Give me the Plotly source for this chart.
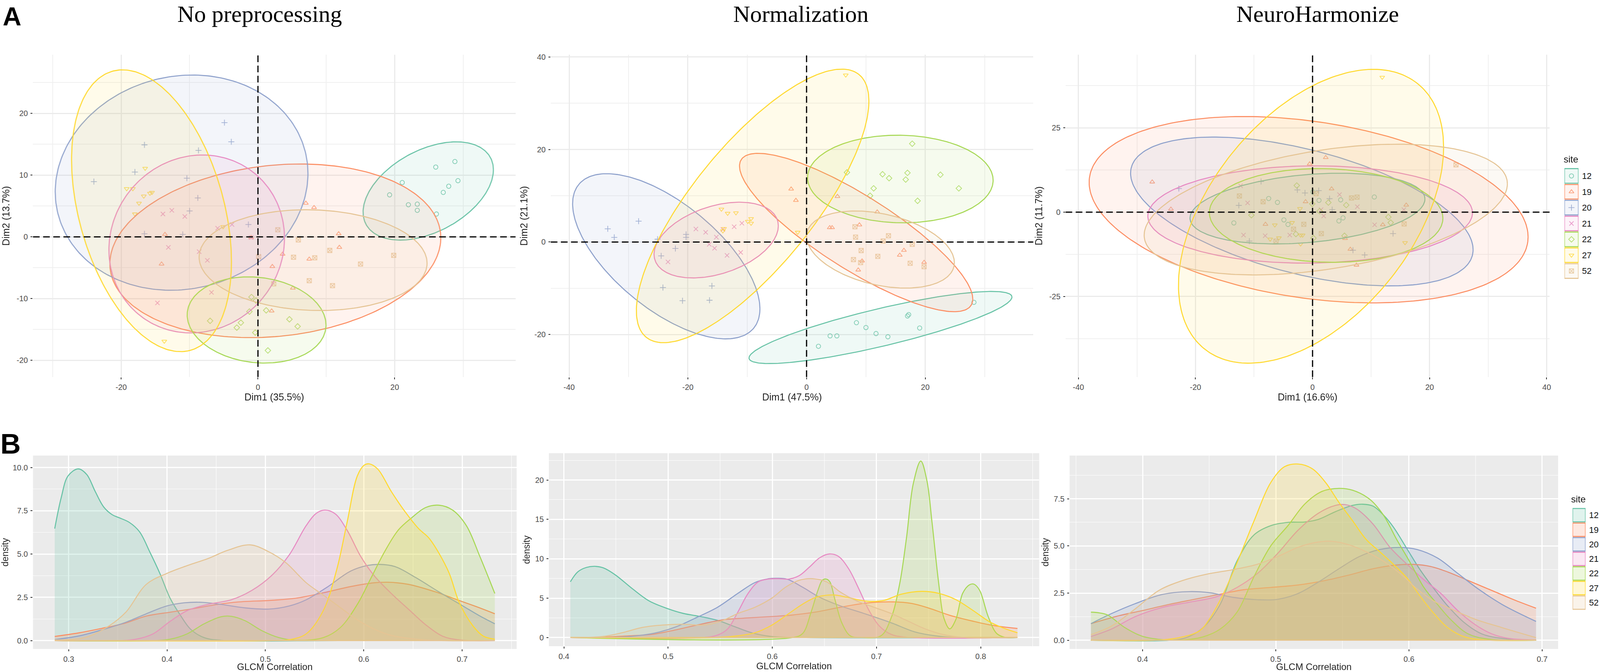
import numpy as np
import plotly.graph_objects as go

W, H = 4317, 1720

sites = ["12", "19", "20", "21", "22", "27", "52"]
colors = ["#66c2a5", "#fc8d62", "#8da0cb", "#e78ac3", "#a6d854", "#ffd92f", "#e5c494"]
symbols = ["circle-open", "triangle-up-open", "cross-thin-open", "x-thin-open",
           "diamond-open", "triangle-down-open", "square-x-open"]

titles = ["No preprocessing", "Normalization", "NeuroHarmonize"]
dim1_labels = ["Dim1 (35.5%)", "Dim1 (47.5%)", "Dim1 (16.6%)"]
dim2_labels = ["Dim2 (13.7%)", "Dim2 (21.1%)", "Dim2 (11.7%)"]

# tick labels, hyphen minus as in the original
pca_xticks = [[-20, 0, 20], [-40, -20, 0, 20], [-40, -20, 0, 20, 40]]
pca_yticks = [[-20, -10, 0, 10, 20], [-20, 0, 20, 40], [-25, 0, 25]]

# PCA scores, one inner list per site
pca1_x = [
    [19.25, 21.1, 22.0, 23.3, 23.3, 26.1, 26.0, 28.8, 29.25, 27.9, 27.1],
    [7.0, 8.2, 11.8, 11.9, 3.6, 7.5, 2.1, 5.1, 2.0, -1.0, -13.6, -14.1],
    [-24.0, -18.0, -16.6, -8.7, -4.9, -3.9, -10.4, -8.8, -10.0, -1.4, -16.6, -11.0],
    [-13.9, -12.6, -10.7, -5.9, -3.8, -1.0, -13.1, -8.6, -7.4, -6.8, -14.7],
    [-0.95, -0.3, -1.25, 1.2, 4.6, 5.8, -2.5, -3.1, -0.4, 1.45, -7.0],
    [-16.5, -19.2, -18.3, -16.7, -15.8, -15.5, -17.4, -18.0, -5.1, -13.7],
    [2.9, 5.9, 0.1, 5.2, 8.3, 10.5, 19.85, 15.0, 7.5, 10.9, 2.3],
]
pca1_y = [
    [6.8, 8.8, 5.2, 5.3, 4.3, 3.7, 11.3, 12.2, 9.1, 8.2, 7.2],
    [5.45, 4.75, 0.5, -1.7, -2.8, -3.6, -4.8, -8.3, -12.0, -0.1, 0.4, -4.4],
    [8.95, 10.5, 14.9, 14.0, 18.5, 15.4, 9.5, 6.3, 4.2, 2.0, 0.5, 0.4],
    [3.7, 4.3, 3.3, 1.4, 2.0, -0.1, -1.7, -2.4, -3.8, -9.0, -10.7],
    [-9.75, -10.3, -12.1, -11.9, -13.35, -14.5, -13.9, -14.7, -15.5, -18.4, -13.6],
    [11.1, 7.8, 7.8, 6.6, 7.05, 7.2, 5.45, 3.7, 1.65, -16.9],
    [1.15, -0.5, -3.2, -3.3, -3.4, -2.2, -3.0, -4.4, -7.1, -7.9, -7.6],
]
pca2_x = [
    [2.0, 3.96, 5.1, 8.4, 10.0, 11.7, 13.7, 17.0, 17.2, 19.05, 28.2],
    [-2.6, -1.8, 5.2, 11.9, 8.9, 3.9, 4.3, 16.4, 15.7, 9.35, 8.7, 19.8],
    [-33.5, -32.4, -28.3, -25.1, -20.3, -20.3, -22.1, -24.5, -24.2, -15.95, -20.9, -16.35],
    [-18.65, -17.0, -15.2, -16.4, -15.5, -13.4, -11.1, -12.2, -10.9, -23.35, -14.1],
    [17.8, 6.8, 12.8, 13.9, 17.0, 16.7, 22.55, 25.65, 18.7, 11.3, 10.7],
    [6.6, -14.35, -13.3, -11.9, -9.9, -9.35, -9.35, -13.9, -14.1, -1.5],
    [8.15, 8.25, 13.8, 12.9, 17.8, 9.2, 12.0, 7.9, 9.1, 17.45, 19.8],
]
pca2_y = [
    [-22.55, -20.3, -20.3, -17.45, -18.5, -19.8, -20.5, -16.0, -15.7, -18.6, -13.05],
    [11.45, 9.0, 9.85, 6.5, 3.7, 3.1, 3.1, -1.8, -2.85, -4.1, -6.05, -4.4],
    [2.85, 1.0, 4.5, 0.6, 1.65, 1.0, -1.4, -3.0, -9.85, -9.5, -12.7, -12.6],
    [2.8, 2.1, 1.05, -0.5, -1.35, -2.9, -2.25, 3.3, 4.05, -4.3, 2.7],
    [21.25, 15.05, 14.65, 13.8, 14.95, 13.5, 14.55, 11.6, 8.9, 11.6, 10.0],
    [36.1, 7.1, 6.2, 6.3, 4.45, 5.05, 4.05, 2.9, 2.4, 2.1],
    [3.3, 1.05, 1.35, 0.2, -0.5, -1.85, -3.1, -3.8, -4.45, -4.6, -5.35],
]
pca3_x = [
    [0.05, 1.1, 4.8, 10.55, -7.5, -6.0, -4.9, -4.2, -13.45, 4.5, 5.2],
    [2.25, -0.5, -27.4, 3.25, -1.2, -24.2, 16.0, -8.05, 12.0, 5.55, 6.45, 7.5],
    [-22.85, -8.8, -12.6, -2.6, -1.3, 1.05, 2.9, 3.35, 13.75, -10.8, 6.9, 8.9],
    [-12.3, -11.1, 4.6, 7.65, 1.45, 1.9, 15.6, 10.6, -11.8, -8.1, -3.9],
    [-2.7, -0.05, 2.7, 5.75, 1.2, -10.45, 12.95, 13.35, -2.85, 0.15, 5.45],
    [11.9, -2.15, -3.5, -6.45, -7.25, -5.75, -2.05, -1.7, -2.05, 15.8],
    [24.5, -12.5, -8.45, 0.6, 6.65, 7.6, -1.5, -3.25, 1.5, -6.25, 15.65],
]
pca3_y = [
    [6.0, 3.5, 3.65, 4.5, 4.05, 2.9, -2.3, -3.65, -3.2, -2.6, -1.7],
    [16.2, 14.3, 8.95, 6.9, 3.1, 0.9, 2.1, -3.6, -3.75, -7.8, -11.0, -15.7],
    [7.0, 9.1, 2.0, 6.6, 5.7, 6.4, 4.0, 0.75, -6.35, -8.6, -11.3, -12.7],
    [7.8, 2.75, 5.2, 1.6, 0.75, -1.15, 0.75, -3.75, -6.8, -7.0, -6.8],
    [7.9, 2.45, 2.85, 2.1, 0.3, -0.9, -1.45, -3.1, -6.5, -7.7, -7.0],
    [40.0, 1.05, -3.1, -3.8, -8.0, -7.65, -6.8, -6.8, -9.45, -9.05],
    [14.05, 4.8, 3.1, 5.5, 4.2, 4.45, -3.6, -5.05, -6.35, -8.6, -3.5],
]

# ellipses: centre, half width, half height, correlation
ell1_cx = [24.9, 2.54, -11.17, -8.96, -0.2, -15.57, 8.06]
ell1_cy = [7.43, -2.26, 8.78, -1.15, -13.46, 4.23, -3.77]
ell1_rx = [9.53, 24.2, 18.48, 12.84, 10.15, 11.69, 16.67]
ell1_ry = [7.96, 14.06, 17.43, 14.41, 6.98, 22.82, 8.16]
ell1_rho = [0.43, 0.15, 0.085, 0.066, -0.118, -0.362, -0.06]

ell2_cx = [12.45, 8.35, -23.64, -15.23, 15.8, -9.09, 12.45]
ell2_cy = [-18.49, 2.05, -3.09, 0.415, 13.62, 7.8, -1.63]
ell2_rx = [22.15, 19.65, 15.78, 10.47, 15.63, 19.59, 12.45]
ell2_ry = [7.8, 17.12, 17.86, 8.19, 9.47, 29.58, 8.34]
ell2_rho = [0.845, -0.84, -0.636, 0.375, -0.03, 0.766, -0.34]

ell3_cx = [-0.87, -0.67, -1.83, -0.41, 2.32, -0.26, 2.26]
ell3_cy = [1.06, 0.73, 0.2, -0.69, -0.98, -1.22, 0.77]
ell3_rx = [20.07, 37.5, 29.26, 27.73, 19.95, 22.65, 31.03]
ell3_ry = [10.49, 27.64, 22.07, 14.43, 13.9, 43.58, 19.39]
ell3_rho = [0.27, -0.293, -0.514, 0.033, -0.06, 0.47, 0.393]

# density curves, knots per site
den1_x = [
    [.2858, .2924, .2993, .3097, .3183, .327, .3356, .3443, .3512, .3616, .372, .3824, .3927, .4031, .4135, .4239, .4377, .455, .576, .7332],
    [.2858, .3097, .3339, .3581, .3789, .4031, .4239, .4516, .4723, .5069, .5311, .5588, .5865, .6107, .6246, .6453, .673, .6972, .7145, .7332],
    [.2858, .3097, .3339, .3581, .3789, .3997, .417, .436, .455, .4792, .5035, .5242, .5415, .5623, .5865, .6038, .6159, .6315, .6522, .6765, .7007, .718, .7332],
    [.2858, .3512, .3685, .3858, .4031, .4204, .4412, .4654, .4862, .5069, .5242, .5415, .5519, .5606, .571, .583, .5969, .6107, .628, .6453, .6626, .6799, .6972, .7332],
    [.2858, .3858, .4031, .4204, .4377, .455, .4654, .4792, .4965, .5138, .5311, .5588, .5761, .5934, .6073, .6211, .635, .6488, .6626, .6765, .6903, .7042, .718, .7332],
    [.2858, .5069, .5242, .5415, .5588, .5727, .583, .5934, .6003, .6055, .6142, .628, .6419, .6557, .6661, .6765, .6869, .6972, .7111, .7215, .7332],
    [.2858, .3166, .3408, .3581, .3789, .3997, .4204, .4412, .4619, .4844, .5035, .5208, .5415, .5588, .5761, .5934, .6107, .628, .6626, .7332],
]
den1_y = [
    [6.47, 8.26, 9.51, 9.92, 9.6, 8.61, 7.72, 7.27, 7.1, 6.83, 6.29, 5.13, 3.88, 2.45, 1.47, 0.66, 0.17, 0.02, 0, 0],
    [0.24, 0.44, 0.71, 1.02, 1.42, 1.64, 1.82, 2.09, 2.23, 2.33, 2.45, 2.76, 3.12, 3.34, 3.37, 3.25, 2.81, 2.31, 1.96, 1.55],
    [0.06, 0.26, 0.62, 1.06, 1.55, 2.0, 2.18, 2.21, 2.09, 1.89, 1.82, 2.0, 2.36, 3.07, 4.01, 4.34, 4.4, 4.28, 3.66, 2.81, 2.0, 1.42, 0.97],
    [0, 0, 0.08, 0.39, 1.11, 1.73, 2.09, 2.36, 2.9, 3.79, 4.95, 6.65, 7.36, 7.54, 7.32, 6.38, 4.86, 3.74, 2.72, 1.82, 0.93, 0.26, 0.04, 0],
    [0, 0, 0.08, 0.39, 0.97, 1.38, 1.4, 1.15, 0.57, 0.17, 0.02, 0.17, 0.75, 2.09, 3.61, 5.13, 6.38, 7.1, 7.68, 7.82, 7.54, 6.65, 4.86, 2.72],
    [0, 0, 0.05, 0.39, 1.73, 4.15, 6.83, 9.51, 10.13, 10.21, 9.91, 8.61, 7.45, 6.47, 5.93, 5.04, 3.88, 2.18, 0.84, 0.26, 0.08],
    [0.04, 0.17, 0.84, 1.64, 3.25, 3.88, 4.33, 4.73, 5.22, 5.53, 5.13, 4.5, 3.34, 2.63, 1.91, 1.2, 0.66, 0.3, 0.04, 0],
]
den2_x = [
    [.4062, .4134, .4216, .4297, .4379, .4493, .4657, .482, .5, .5147, .531, .5474, .5637, .5801, .5997, .6324, .8353],
    [.4062, .4363, .4624, .4853, .5082, .5343, .5539, .5735, .5997, .6193, .6422, .665, .6912, .714, .7337, .75, .7696, .7925, .8121, .8353],
    [.4062, .4526, .4755, .4918, .5082, .5278, .5474, .567, .5833, .5964, .6046, .6144, .6291, .6454, .665, .6879, .714, .7369, .7565, .7794, .8353],
    [.4062, .5343, .5474, .5572, .567, .5768, .5866, .5964, .6062, .616, .6258, .6356, .6454, .6546, .6634, .6732, .683, .6928, .7026, .714, .7271, .8353],
    [.4062, .6193, .6291, .6373, .6438, .648, .6516, .6552, .6601, .6667, .6748, .6846, .7042, .714, .7222, .7288, .7353, .7425, .7484, .7533, .7598, .7647, .7703, .7761, .7827, .7892, .7935, .799, .8072, .8154, .8235, .8353],
    [.4062, .5474, .567, .5833, .5997, .616, .6291, .6422, .6585, .6716, .6846, .6944, .7075, .7239, .7435, .7598, .7761, .7925, .8088, .8219, .8353],
    [.4062, .4363, .4559, .4755, .4951, .5147, .5343, .5507, .567, .5833, .5997, .6127, .6258, .6389, .652, .665, .6814, .6977, .714, .7304, .7467, .7631, .7827, .8353],
]
den2_y = [
    [7.08, 8.35, 8.9, 9.04, 8.84, 7.96, 6.2, 4.63, 3.65, 3.06, 2.67, 2.18, 1.39, 0.61, 0.12, 0, 0],
    [0, 0.06, 0.22, 0.41, 1.0, 1.78, 2.27, 2.47, 2.67, 2.86, 3.25, 3.84, 4.39, 4.53, 4.33, 3.75, 2.86, 2.08, 1.53, 1.16],
    [0, 0.06, 0.31, 0.71, 1.39, 2.57, 3.84, 5.61, 6.98, 7.47, 7.53, 7.41, 6.39, 5.12, 4.04, 3.06, 1.88, 0.71, 0.22, 0, 0],
    [0, 0.02, 0.31, 1.1, 3.25, 5.61, 7.08, 7.43, 7.47, 7.43, 7.86, 8.94, 10.12, 10.61, 10.31, 8.75, 6.2, 3.45, 1.49, 0.41, 0.06, 0],
    [0, 0, 0.51, 3.25, 6.0, 7.27, 7.43, 7.08, 4.82, 1.88, 0.22, 0.02, 0.22, 2.47, 6.78, 12.67, 19.53, 22.41, 19.92, 14.63, 6.78, 2.47, 1.1, 2.27, 5.61, 6.69, 6.78, 6.0, 2.67, 0.51, 0.02, 0],
    [0, 0.02, 0.22, 0.61, 1.59, 3.06, 4.24, 5.12, 5.41, 5.12, 4.73, 4.59, 4.73, 5.51, 5.86, 5.61, 4.82, 3.45, 1.98, 1.2, 0.61],
    [0, 0.12, 0.61, 1.29, 1.59, 1.69, 1.59, 2.08, 3.06, 3.84, 5.02, 6.39, 7.27, 7.47, 7.08, 5.8, 4.63, 3.84, 3.06, 2.08, 1.1, 0.41, 0.02, 0],
]
den3_x = [
    [.3612, .4199, .4327, .4454, .4582, .4709, .4837, .4964, .5092, .5219, .5321, .5449, .5577, .5653, .573, .5806, .5883, .5985, .6087, .6189, .6291, .6418, .6546, .6699, .6954],
    [.3612, .3816, .3995, .4199, .4403, .4607, .476, .4964, .5168, .5372, .5551, .573, .5908, .6036, .6163, .6291, .6444, .6622, .6801, .6954],
    [.3612, .3765, .3944, .4148, .4352, .4505, .4684, .4862, .5015, .5168, .5321, .5474, .5628, .5781, .5934, .6061, .6214, .6367, .652, .6699, .6954],
    [.3612, .3765, .3944, .4148, .4352, .4556, .4709, .4862, .5015, .5168, .5321, .5449, .552, .5602, .573, .5857, .5985, .6112, .624, .6367, .6495, .6622, .675, .6954],
    [.3612, .3676, .374, .3867, .3995, .4173, .4327, .4454, .4582, .4709, .4837, .4964, .5092, .5219, .5347, .5474, .5577, .5704, .5806, .5908, .601, .6112, .6214, .6316, .6444, .6597, .6954],
    [.3612, .4148, .4301, .4429, .4505, .4607, .4709, .4837, .4964, .5066, .5168, .527, .5372, .5474, .5577, .5679, .5781, .5883, .5985, .6087, .6189, .6291, .6418, .6571, .6954],
    [.3612, .3765, .3944, .4122, .4301, .448, .4684, .4862, .5015, .5168, .5296, .5411, .5551, .5679, .5806, .5934, .6061, .6189, .6316, .6495, .6699, .6954],
]
den3_y = [
    [0, 0, 0.14, 0.67, 1.9, 4.2, 5.59, 6.08, 6.25, 6.27, 6.41, 6.82, 7.15, 7.21, 7.11, 6.66, 6.0, 4.85, 3.7, 2.72, 1.82, 0.92, 0.34, 0.1, 0],
    [0.88, 1.29, 1.57, 1.9, 2.19, 2.48, 2.68, 2.8, 2.93, 3.17, 3.46, 3.79, 3.99, 4.02, 3.91, 3.62, 3.17, 2.64, 2.11, 1.7],
    [0.88, 1.41, 1.94, 2.43, 2.58, 2.52, 2.27, 2.15, 2.17, 2.48, 3.09, 3.79, 4.44, 4.81, 4.92, 4.81, 4.36, 3.54, 2.72, 1.9, 1.0],
    [0.2, 0.59, 1.25, 1.74, 2.02, 2.31, 2.8, 3.54, 4.61, 5.84, 6.74, 7.15, 7.19, 6.98, 6.16, 4.93, 4.03, 3.21, 2.48, 1.57, 0.84, 0.34, 0.1, 0.02],
    [1.49, 1.45, 1.33, 0.67, 0.22, 0.02, 0.03, 0.18, 0.59, 1.49, 3.38, 5.02, 6.08, 7.23, 7.89, 8.05, 7.95, 7.48, 6.66, 5.34, 4.11, 2.8, 1.9, 1.08, 0.34, 0.06, 0],
    [0, 0.02, 0.18, 0.51, 1.16, 2.48, 4.11, 6.33, 8.38, 9.2, 9.34, 9.11, 8.38, 7.31, 6.33, 5.34, 4.69, 4.03, 3.3, 2.31, 1.41, 0.67, 0.18, 0.02, 0],
    [0.3, 0.75, 1.66, 2.64, 3.17, 3.5, 3.75, 4.03, 4.44, 4.93, 5.18, 5.25, 5.06, 4.69, 4.2, 3.54, 2.72, 2.07, 1.66, 1.12, 0.67, 0.14],
]

# axis settings
pca_boxes = [(89, 1391, 140, 965), (1486, 2788, 140, 965), (2875, 4181, 140, 965)]
pca_xrange = [(-32.9, 37.67), (-43.1, 38.2), (-42.2, 40.5)]
pca_yrange = [(-22.7, 29.5), (-29.2, 40.5), (-48.9, 46.7)]
pca_xminor = [10, 10, 10]
pca_yminor = [5, 10, 12.5]

den_boxes = [(89, 1394, 1166, 1661), (1481, 2804, 1160, 1654), (2886, 4204, 1166, 1661)]
den_xrange = [(.2637, .7554), (.3856, .8562), (.3452, .712)]
den_yrange = [(-.483, 10.69), (-1.1, 23.4), (-.46, 9.79)]
den_ydtick = [2.5, 5, 2.5]
den_yformat = [".1f", "d", ".1f"]

FONT = "Liberation Sans"


def rgba(hex_color, a):
    r, g, b = int(hex_color[1:3], 16), int(hex_color[3:5], 16), int(hex_color[5:7], 16)
    return f"rgba({r},{g},{b},{a})"


def xdom(a, b):
    return [a / W, b / W]


def ydom(top, bottom):
    return [1 - bottom / H, 1 - top / H]


def axis_ids(k):
    # plotly names the first pair x / y, not x1 / y1
    s = "" if k == 1 else str(k)
    return f"x{s}", f"y{s}", f"xaxis{s}", f"yaxis{s}"


def axis_base():
    return dict(
        ticks="outside", ticklen=5, tickwidth=2, tickcolor="#333333",
        tickfont=dict(family=FONT, size=20, color="#4d4d4d"),
        zeroline=False, showline=False, automargin=False, ticklabelstandoff=3,
    )


fig = go.Figure()
layout = {}
n = 0

pca_x = [pca1_x, pca2_x, pca3_x]
pca_y = [pca1_y, pca2_y, pca3_y]
ell_cx = [ell1_cx, ell2_cx, ell3_cx]
ell_cy = [ell1_cy, ell2_cy, ell3_cy]
ell_rx = [ell1_rx, ell2_rx, ell3_rx]
ell_ry = [ell1_ry, ell2_ry, ell3_ry]
ell_rho = [ell1_rho, ell2_rho, ell3_rho]
t = np.linspace(0, 2 * np.pi, 241)

for p in range(3):
    n += 1
    xa, ya, xname, yname = axis_ids(n)
    left, right, top, bottom = pca_boxes[p]
    layout[xname] = dict(
        axis_base(), domain=xdom(left, right), anchor=ya, range=pca_xrange[p],
        tickmode="array", tickvals=pca_xticks[p], ticktext=[str(v) for v in pca_xticks[p]],
        showgrid=True, gridcolor="#ebebeb", gridwidth=2.5,
        minor=dict(dtick=pca_xminor[p], tick0=0, showgrid=True, gridcolor="#f0f0f0", gridwidth=1.5, ticks=""),
        title=dict(text=dim1_labels[p], font=dict(family=FONT, size=25, color="#222222"), standoff=4),
    )
    layout[yname] = dict(
        axis_base(), domain=ydom(top, bottom), anchor=xa, range=pca_yrange[p],
        tickmode="array", tickvals=pca_yticks[p], ticktext=[str(v) for v in pca_yticks[p]],
        showgrid=True, gridcolor="#ebebeb", gridwidth=2.5,
        minor=dict(dtick=pca_yminor[p], tick0=0, showgrid=True, gridcolor="#f0f0f0", gridwidth=1.5, ticks=""),
        title=dict(text=dim2_labels[p], font=dict(family=FONT, size=25, color="#222222"), standoff=10),
    )
    for i in range(7):
        fig.add_trace(go.Scatter(
            x=pca_x[p][i], y=pca_y[p][i], mode="markers", xaxis=xa, yaxis=ya,
            opacity=0.8, showlegend=False,
            marker=dict(symbol=symbols[i], size=11, color=colors[i], line=dict(width=1.8, color=colors[i])),
        ))
    for i in range(7):
        # ellipse from its centre, extents and correlation
        ex = ell_cx[p][i] + ell_rx[p][i] * np.cos(t)
        ey = ell_cy[p][i] + ell_ry[p][i] * np.cos(t - np.arccos(ell_rho[p][i]))
        fig.add_trace(go.Scatter(
            x=ex, y=ey, mode="lines", xaxis=xa, yaxis=ya, fill="toself",
            fillcolor=rgba(colors[i], 0.1), line=dict(color=colors[i], width=2.6), showlegend=False,
        ))

den_x = [den1_x, den2_x, den3_x]
den_y = [den1_y, den2_y, den3_y]

for p in range(3):
    n += 1
    xa, ya, xname, yname = axis_ids(n)
    left, right, top, bottom = den_boxes[p]
    layout[xname] = dict(
        axis_base(), domain=xdom(left, right), anchor=ya, range=den_xrange[p],
        dtick=0.1, tick0=0, tickformat=".1f", showgrid=True, gridcolor="#ffffff", gridwidth=2.5,
        minor=dict(dtick=0.05, tick0=0, showgrid=True, gridcolor="#ffffff", gridwidth=1.3, ticks=""),
        title=dict(text="GLCM Correlation", font=dict(family=FONT, size=24, color="#222222"), standoff=4),
    )
    layout[yname] = dict(
        axis_base(), domain=ydom(top, bottom), anchor=xa, range=den_yrange[p],
        dtick=den_ydtick[p], tick0=0, tickformat=den_yformat[p], showgrid=True, gridcolor="#ffffff", gridwidth=2.5,
        minor=dict(dtick=den_ydtick[p] / 2, tick0=0, showgrid=True, gridcolor="#ffffff", gridwidth=1.3, ticks=""),
        title=dict(text="density", font=dict(family=FONT, size=23, color="#222222"), standoff=6),
    )
    for i in range(7):
        xs, ys = den_x[p][i], den_y[p][i]
        fig.add_trace(go.Scatter(
            x=xs, y=ys, mode="lines", xaxis=xa, yaxis=ya, fill="tozeroy", showlegend=False,
            fillcolor=rgba(colors[i], 0.2),
            line=dict(color=colors[i], width=2.6, shape="spline", smoothing=1.0),
        ))
        fig.add_trace(go.Scatter(
            x=[xs[0], xs[-1]], y=[0, 0], mode="lines", xaxis=xa, yaxis=ya,
            line=dict(color=colors[i], width=2.6), showlegend=False,
        ))

# dashed zero lines on the PCA panels
shapes = []
for k in range(1, 4):
    xa, ya, _, _ = axis_ids(k)
    dash_line = dict(color="#000000", width=3, dash="17px,9px")
    shapes.append(dict(type="line", xref=f"{xa} domain", yref=ya, x0=0, x1=1, y0=0, y1=0, line=dash_line, layer="above"))
    shapes.append(dict(type="line", xref=xa, yref=f"{ya} domain", x0=0, x1=0, y0=0, y1=1, line=dash_line, layer="above"))

# grey panels for the density row
for k in range(4, 7):
    xa, ya, _, _ = axis_ids(k)
    shapes.append(dict(type="rect", xref=f"{xa} domain", yref=f"{ya} domain", x0=0, x1=1, y0=0, y1=1,
                       fillcolor="#ebebeb", line=dict(width=0), layer="below"))

# hand drawn legend keys, boxes on two hidden axes
key_positions = list(range(7))
legend_boxes = [(4221, 4259, 430, 714), (4243, 4278, 1300, 1561)]
legend_alpha = [0.1, 0.2]
for b in range(2):
    n += 1
    xa, ya, xname, yname = axis_ids(n)
    left, right, top, bottom = legend_boxes[b]
    layout[xname] = dict(domain=xdom(left, right), anchor=ya, range=[-0.5, 0.5], visible=False)
    layout[yname] = dict(
        domain=ydom(top, bottom), anchor=xa, range=[6.5, -0.5], side="right",
        tickmode="array", tickvals=key_positions, ticktext=sites, ticks="", showgrid=False,
        zeroline=False, showline=False, automargin=False, ticklabelstandoff=8,
        tickfont=dict(family=FONT, size=22, color="#111111"),
    )
    for i in range(7):
        shapes.append(dict(
            type="rect", xref=xa, yref=ya, x0=-0.5, x1=0.5, y0=i - 0.46, y1=i + 0.46,
            line=dict(color=colors[i], width=2.6), fillcolor=rgba(colors[i], legend_alpha[b]),
        ))
    if b == 0:
        for i in range(7):
            fig.add_trace(go.Scatter(
                x=[0], y=[i], mode="markers", xaxis=xa, yaxis=ya, opacity=0.8, showlegend=False,
                marker=dict(symbol=symbols[i], size=11, color=colors[i], line=dict(width=1.8, color=colors[i])),
            ))

annotations = []
anchored = dict(xref="paper", yref="paper", showarrow=False, xanchor="center", yanchor="middle")
for txt, px, py in zip(titles, [701, 2161, 3555], [36, 36, 36]):
    annotations.append(dict(text=txt, x=px / W, y=1 - py / H, **anchored,
                            font=dict(family="Liberation Serif", size=60, color="#000000")))
for txt, px, py, fs in [("A", 33, 42, 66), ("B", 28, 1136, 72)]:
    annotations.append(dict(text=f"<b>{txt}</b>", x=px / W, y=1 - py / H, **anchored,
                            font=dict(family=FONT, size=fs, color="#000000")))
for px, py in [(4239, 407), (4259, 1277)]:
    annotations.append(dict(text="site", x=px / W, y=1 - py / H, **anchored,
                            font=dict(family=FONT, size=24, color="#111111")))

fig.update_layout(
    margin=dict(l=0, r=0, t=0, b=0),
    paper_bgcolor="#ffffff", plot_bgcolor="#ffffff",
    shapes=shapes, annotations=annotations, showlegend=False, **layout,
)

# let the figure fill the window, whatever the window really is
page_js = (
    "document.documentElement.style.height='100%';"
    "document.body.style.height='100%';"
    "document.body.style.margin='0';"
    "Plotly.Plots.resize(document.getElementById('{plot_id}'));"
)
fig.write_html("out.html", default_width="100%", default_height="100vh",
               config={"displayModeBar": False, "responsive": True}, post_script=page_js)
